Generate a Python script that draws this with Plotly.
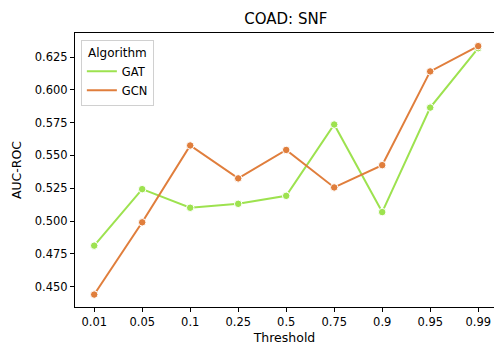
import plotly.graph_objects as go

thresholds = ["0.01", "0.05", "0.1", "0.25", "0.5", "0.75", "0.9", "0.95", "0.99"]
gat = [0.4812, 0.5243, 0.5101, 0.5131, 0.5192, 0.5736, 0.5068, 0.5865, 0.6318]
gcn = [0.4439, 0.4990, 0.5576, 0.5325, 0.5542, 0.5256, 0.5426, 0.6141, 0.6334]
y_ticks = [0.450, 0.475, 0.500, 0.525, 0.550, 0.575, 0.600, 0.625]

GREEN = "#9de24f"
ORANGE = "#e07e3c"

x_idx = list(range(len(thresholds)))
fig = go.Figure()
for name, vals, col in [("GAT", gat, GREEN), ("GCN", gcn, ORANGE)]:
    fig.add_trace(go.Scatter(
        x=x_idx, y=vals, mode="lines+markers", name=name, showlegend=False,
        line=dict(color=col, width=2),
        marker=dict(color=col, size=7.5, line=dict(color="white", width=1)),
    ))
for name, col in [("GAT", GREEN), ("GCN", ORANGE)]:
    fig.add_trace(go.Scatter(x=[None], y=[None], mode="lines", name=name,
                             line=dict(color=col, width=2)))

font = "DejaVu Sans, Verdana, sans-serif"
fig.update_layout(
    width=494, height=345,
    margin=dict(l=75, r=0, t=33, b=38),
    plot_bgcolor="white", paper_bgcolor="white",
    font=dict(family=font, size=11.5, color="black"),
    title=dict(text="COAD: SNF", x=(75 + 496.5) / 2 / 494, xanchor="center",
               y=1 - 19 / 345, yanchor="middle", font=dict(size=15)),
    xaxis=dict(
        range=[-0.4, -0.4 + 419 / 48.0],
        tickmode="array", tickvals=x_idx, ticktext=thresholds,
        showline=True, linecolor="black", linewidth=1, mirror=True,
        ticks="outside", ticklen=4, tickcolor="black", showgrid=False, zeroline=False,
        tickfont=dict(size=11.5),
        title=dict(text="Threshold", standoff=7, font=dict(size=12.5)),
    ),
    yaxis=dict(
        range=[0.4344, 0.6434],
        tickmode="array", tickvals=y_ticks, ticktext=[f"{v:.3f}" for v in y_ticks],
        showline=True, linecolor="black", linewidth=1,
        ticks="outside", ticklen=4, tickcolor="black", showgrid=False, zeroline=False,
        tickfont=dict(size=11.5),
        title=dict(text="AUC-ROC", standoff=10, font=dict(size=12.5)),
    ),
    legend=dict(
        x=0.014, y=0.974, xanchor="left", yanchor="top",
        bgcolor="rgba(255,255,255,0.8)", bordercolor="#d0d0d0", borderwidth=1,
        title=dict(text="Algorithm", side="top center", font=dict(size=12)),
        font=dict(size=11.5), tracegroupgap=0, itemwidth=30,
    ),
)
fig.write_html("out.html")
